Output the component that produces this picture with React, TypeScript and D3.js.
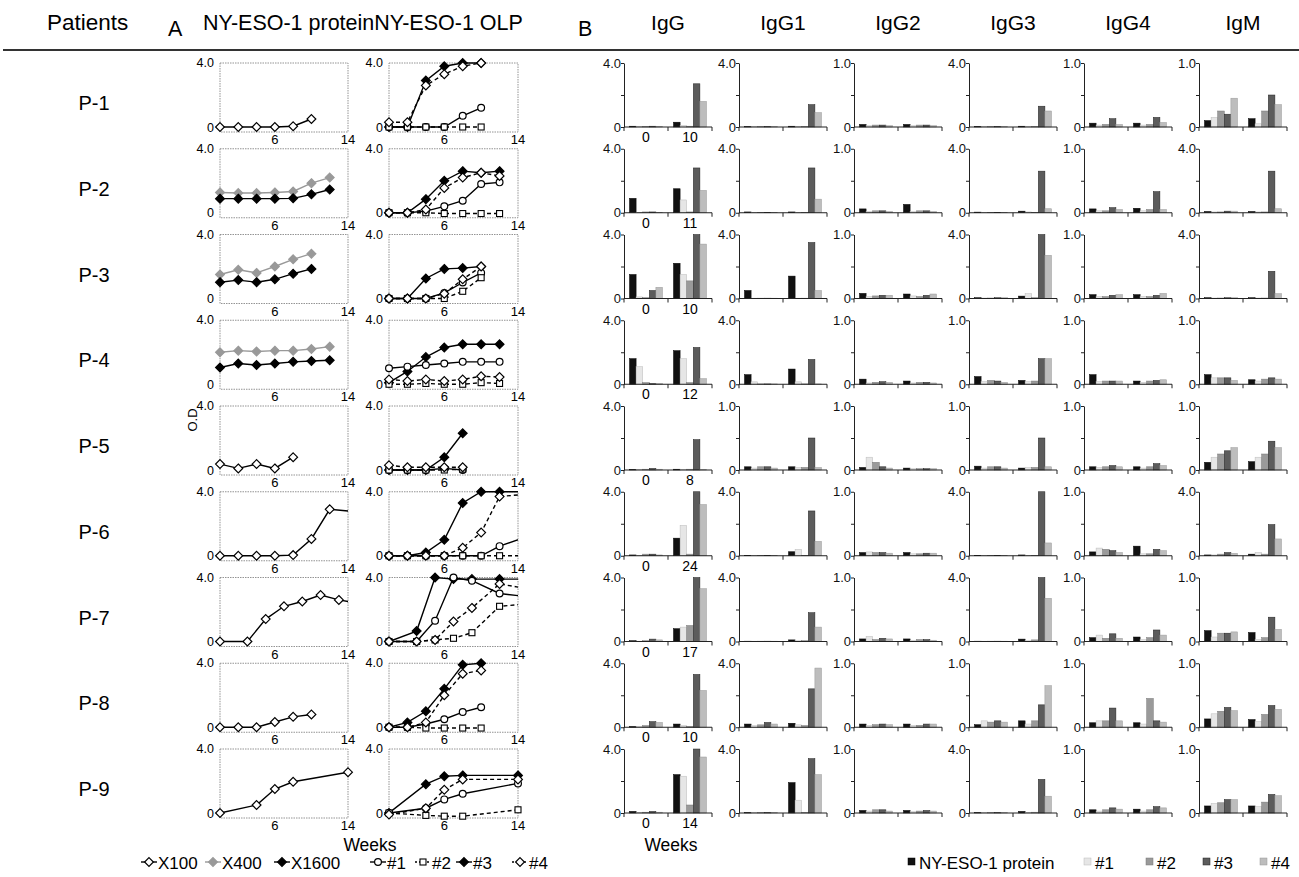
import { useEffect, useRef } from 'react';
import * as d3 from 'd3';

const FONT = '"Liberation Sans", Arial, Helvetica, sans-serif';

const patients = ['P-1', 'P-2', 'P-3', 'P-4', 'P-5', 'P-6', 'P-7', 'P-8', 'P-9'];
const lastWeek = ['10', '11', '10', '12', '8', '24', '17', '10', '14'];
const isotypes = ['IgG', 'IgG1', 'IgG2', 'IgG3', 'IgG4', 'IgM'];
const antigens = ['NY-ESO-1 protein', '#1', '#2', '#3', '#4'];

// A: NY-ESO-1 protein ELISA (weeks sampled per patient)
const proteinWeeks = [
  [0, 2, 4, 6, 8, 10], [0, 2, 4, 6, 8, 10, 12], [0, 2, 4, 6, 8, 10], [0, 2, 4, 6, 8, 10, 12],
  [0, 2, 4, 6, 8], [0, 2, 4, 6, 8, 10, 12, 16], [0, 3, 5, 7, 9, 11, 13, 15], [0, 2, 4, 6, 8, 10], [0, 4, 6, 8, 14],
];
const x100 = [
  [0, 0, 0, 0, 0.05, 0.5], null, null, null,
  [0.37, 0.1, 0.37, 0.1, 0.8], [0, 0, 0, 0, 0.04, 1.05, 2.9, 2.7], [0, 0, 1.4, 2.2, 2.5, 2.9, 2.6, 2.4],
  [0, 0, 0, 0.33, 0.65, 0.8], [0, 0.5, 1.5, 1.95, 2.55],
];
const x400 = [
  null, [1.27, 1.23, 1.23, 1.27, 1.33, 1.85, 2.2], [1.5, 1.8, 1.6, 2.0, 2.45, 2.8],
  [2.0, 2.1, 2.05, 2.1, 2.1, 2.2, 2.35], null, null, null, null, null,
];
const x1600 = [
  null, [0.88, 0.88, 0.88, 0.88, 0.9, 1.15, 1.45], [1.02, 1.15, 1.02, 1.2, 1.55, 1.85],
  [1.05, 1.3, 1.2, 1.3, 1.4, 1.45, 1.5], null, null, null, null, null,
];

// A: NY-ESO-1 OLP ELISA
const olpWeeks = [
  [0, 2, 4, 6, 8, 10], [0, 2, 4, 6, 8, 10, 12], [0, 2, 4, 6, 8, 10], [0, 2, 4, 6, 8, 10, 12],
  [0, 2, 4, 6, 8], [0, 2, 4, 6, 8, 10, 12, 16], [0, 3, 5, 7, 9, 12, 15], [0, 2, 4, 6, 8, 10], [0, 4, 6, 8, 14],
];
const olp1 = [
  [0, 0, 0, 0, 0.7, 1.2], [0, 0, 0.1, 0.4, 0.75, 1.8, 1.9], [0, 0, 0, 0.35, 1.0, 1.6],
  [1.0, 1.1, 1.2, 1.3, 1.4, 1.4, 1.4], [0, 0, 0, 0.1, 0], [0, 0, 0, 0, 0, 0, 0.6, 1.4],
  [0, 0, 1.3, 4.0, 3.8, 3.0, 2.8], [0, 0, 0.2, 0.5, 0.95, 1.25], [0, 0.3, 0.85, 1.2, 1.85],
];
const olp2 = [
  [0, 0, 0, 0, 0, 0], [0, 0, 0, -0.05, -0.05, -0.05, -0.05], [0, 0, 0, 0, 0.45, 1.3],
  [0, 0, 0.05, 0, 0, 0.1, 0.05], [0, 0, 0, 0, 0.05], [0, 0, 0, 0, 0, 0, 0, 0],
  [0, 0, 0.1, 0.2, 0.55, 2.2, 2.35], [0, 0, -0.05, -0.05, -0.05, -0.05], [0, -0.15, -0.2, -0.2, 0.2],
];
const olp3 = [
  [0, 0, 2.9, 3.8, 4.0, 4.0], [0, 0, 0.85, 2.0, 2.6, 2.5, 2.6], [0, 0, 1.25, 1.85, 1.9, 2.0],
  [0.1, 0.8, 1.7, 2.3, 2.5, 2.5, 2.5], [0, 0, 0, 0.8, 2.3], [0, 0, 0.2, 1.0, 3.3, 4.0, 4.0, 4.0],
  [0, 0.65, 4.0, 3.9, 3.9, 3.9, 3.9], [0, 0.3, 1.0, 2.4, 3.9, 4.0], [0, 1.8, 2.3, 2.35, 2.35],
];
const olp4 = [
  [0.3, 0.3, 2.6, 3.3, 3.8, 4.0], [0, 0, 0.2, 1.55, 2.2, 2.5, 2.3], [0, 0, 0, 0.3, 1.2, 2.0],
  [0.3, 0.2, 0.3, 0.2, 0.3, 0.5, 0.45], [0.3, 0.17, 0.17, 0.17, 0.17], [0, 0, 0, 0, 0.5, 1.45, 3.7, 3.9],
  [0, 0, 0.1, 1.25, 2.1, 3.6, 3.3], [0, 0, 0.3, 2.0, 3.35, 3.55], [-0.1, 0.3, 1.45, 2.1, 2.1],
];

// B: OD per isotype; week 0 (protein, #1..#4) then last week (protein, #1..#4)
const igG = [
  [0.05, 0.03, 0.03, 0.05, 0.03, 0.3, 0.1, 0.05, 2.7, 1.6],
  [0.9, 0.03, 0.05, 0.05, 0.03, 1.5, 0.8, 0.05, 2.8, 1.4],
  [1.5, 0.1, 0.05, 0.5, 0.7, 2.2, 1.5, 1.1, 4.0, 3.4],
  [1.6, 1.1, 0.1, 0.05, 0.05, 2.1, 1.6, 0.1, 2.3, 0.35],
  [0.03, 0.03, 0.05, 0.1, 0.05, 0.05, 0.03, 0.05, 1.9, 0.03],
  [0.05, 0.02, 0.1, 0.1, 0.05, 1.1, 1.9, 0.1, 4.0, 3.2],
  [0.05, 0.02, 0.05, 0.15, 0.1, 0.8, 0.9, 1.0, 4.0, 3.3],
  [0.05, 0.05, 0.1, 0.35, 0.3, 0.2, 0.1, 0.05, 3.3, 2.3],
  [0.1, 0.02, 0.05, 0.1, 0.05, 2.4, 2.3, 0.5, 4.0, 3.5],
];
const igG1 = [
  [0.02, 0.02, 0.02, 0.02, 0.02, 0.05, 0.03, 0.03, 1.4, 0.9],
  [0.05, 0.02, 0.02, 0.02, 0.02, 0.05, 0.02, 0.02, 2.8, 0.85],
  [0.5, 0.02, 0.02, 0.02, 0.02, 1.4, 0.02, 0.02, 3.5, 0.5],
  [0.6, 0.15, 0.02, 0.02, 0.02, 0.95, 0.15, 0.02, 1.55, 0.02],
  [0.05, 0.03, 0.05, 0.05, 0.03, 0.05, 0.04, 0.04, 0.5, 0.04],
  [0.02, 0.02, 0.02, 0.02, 0.02, 0.25, 0.4, 0.02, 2.8, 0.9],
  [0.02, 0.02, 0.02, 0.02, 0.02, 0.1, 0.05, 0.05, 1.8, 0.9],
  [0.2, 0.1, 0.15, 0.3, 0.2, 0.25, 0.15, 0.1, 2.4, 3.7],
  [0.02, 0.02, 0.02, 0.02, 0.02, 1.9, 0.8, 0.02, 3.4, 2.4],
];
const igG2 = [
  [0.04, 0.02, 0.03, 0.03, 0.02, 0.04, 0.02, 0.03, 0.03, 0.02],
  [0.06, 0.02, 0.03, 0.03, 0.02, 0.13, 0.02, 0.03, 0.03, 0.02],
  [0.08, 0.03, 0.04, 0.05, 0.05, 0.07, 0.04, 0.03, 0.05, 0.07],
  [0.08, 0.02, 0.03, 0.04, 0.03, 0.05, 0.02, 0.03, 0.03, 0.02],
  [0.04, 0.2, 0.12, 0.05, 0.03, 0.03, 0.02, 0.02, 0.02, 0.02],
  [0.05, 0.06, 0.05, 0.05, 0.04, 0.05, 0.03, 0.03, 0.04, 0.04],
  [0.04, 0.08, 0.03, 0.05, 0.04, 0.04, 0.02, 0.03, 0.03, 0.02],
  [0.05, 0.03, 0.04, 0.05, 0.04, 0.05, 0.03, 0.03, 0.05, 0.05],
  [0.04, 0.03, 0.05, 0.05, 0.03, 0.04, 0.02, 0.03, 0.04, 0.03],
];
const igG3 = [
  [0.03, 0.02, 0.02, 0.03, 0.02, 0.05, 0.03, 0.03, 1.3, 1.0],
  [0.04, 0.02, 0.02, 0.03, 0.02, 0.1, 0.05, 0.03, 2.6, 0.25],
  [0.05, 0.03, 0.03, 0.05, 0.05, 0.15, 0.3, 0.05, 4.0, 2.7],
  [0.12, 0.04, 0.06, 0.05, 0.03, 0.06, 0.04, 0.05, 0.4, 0.4],
  [0.06, 0.03, 0.05, 0.05, 0.03, 0.03, 0.04, 0.04, 0.5, 0.05],
  [0.02, 0.02, 0.02, 0.02, 0.02, 0.05, 0.02, 0.02, 4.0, 0.8],
  [0.02, 0.02, 0.02, 0.02, 0.02, 0.15, 0.05, 0.1, 4.0, 2.7],
  [0.04, 0.1, 0.08, 0.1, 0.08, 0.1, 0.05, 0.1, 0.35, 0.65],
  [0.02, 0.02, 0.02, 0.02, 0.02, 0.1, 0.03, 0.05, 2.1, 1.05],
];
const igG4 = [
  [0.06, 0.03, 0.04, 0.13, 0.04, 0.06, 0.03, 0.04, 0.15, 0.07],
  [0.06, 0.03, 0.03, 0.08, 0.05, 0.07, 0.03, 0.05, 0.33, 0.05],
  [0.06, 0.03, 0.03, 0.05, 0.06, 0.06, 0.03, 0.03, 0.05, 0.08],
  [0.15, 0.04, 0.05, 0.05, 0.05, 0.05, 0.03, 0.05, 0.06, 0.07],
  [0.05, 0.04, 0.05, 0.07, 0.05, 0.05, 0.03, 0.05, 0.1, 0.07],
  [0.06, 0.12, 0.1, 0.08, 0.05, 0.15, 0.03, 0.03, 0.1, 0.08],
  [0.06, 0.1, 0.05, 0.12, 0.05, 0.07, 0.03, 0.06, 0.18, 0.1],
  [0.07, 0.1, 0.1, 0.3, 0.1, 0.07, 0.05, 0.45, 0.1, 0.08],
  [0.05, 0.03, 0.05, 0.08, 0.06, 0.06, 0.03, 0.05, 0.1, 0.08],
];
const igM = [
  [0.1, 0.15, 0.25, 0.2, 0.45, 0.13, 0.05, 0.25, 0.5, 0.35],
  [0.08, 0.05, 0.05, 0.1, 0.1, 0.08, 0.05, 0.05, 2.6, 0.25],
  [0.05, 0.03, 0.03, 0.05, 0.05, 0.05, 0.03, 0.03, 1.7, 0.3],
  [0.15, 0.1, 0.1, 0.1, 0.06, 0.07, 0.05, 0.08, 0.1, 0.08],
  [0.12, 0.2, 0.25, 0.3, 0.35, 0.13, 0.2, 0.25, 0.45, 0.35],
  [0.05, 0.05, 0.1, 0.2, 0.15, 0.1, 0.2, 0.1, 1.95, 1.05],
  [0.17, 0.07, 0.13, 0.13, 0.15, 0.14, 0.03, 0.06, 0.38, 0.19],
  [0.13, 0.21, 0.25, 0.31, 0.26, 0.12, 0.09, 0.2, 0.34, 0.28],
  [0.11, 0.15, 0.16, 0.21, 0.21, 0.11, 0.1, 0.17, 0.29, 0.27],
];
// y-axis top label per patient row, per isotype
const axisMax = [
  [4, 4, 1, 4, 1, 1], [4, 4, 1, 4, 1, 4], [4, 4, 1, 4, 1, 4],
  [4, 4, 1, 1, 1, 1], [4, 1, 1, 1, 1, 1], [4, 4, 1, 4, 1, 4],
  [4, 4, 1, 4, 1, 1], [4, 4, 1, 1, 1, 1], [4, 4, 1, 4, 1, 1],
];
const isoData = [igG, igG1, igG2, igG3, igG4, igM];

const ROW0 = 127;
const ROW_STEP = 85.75;
const PH = 64;
const PROT_X: [number, number] = [220, 348];
const OLP_X: [number, number] = [389, 518];
const BAR_X0 = 624;
const BAR_STEP = 115;
const BAR_W = 88;

const barFill = ['#111', '#e6e6e6', '#9a9a9a', '#5c5c5c', '#bdbdbd'];
const barStroke = ['#000', '#bbb', '#777', '#222', '#999'];

const diamondPath = (r: number) => `M0,${-r}L${r},0L0,${r}L${-r},0Z`;

function marker(g: any, kind: string, fill: string, stroke: string, x: number, y: number) {
  if (kind === 'circle') {
    g.append('circle').attr('cx', x).attr('cy', y).attr('r', 3.4)
      .attr('fill', fill).attr('stroke', stroke).attr('stroke-width', 1.2);
  } else if (kind === 'square') {
    g.append('rect').attr('x', x - 3).attr('y', y - 3).attr('width', 6).attr('height', 6)
      .attr('fill', fill).attr('stroke', stroke).attr('stroke-width', 1.1);
  } else {
    g.append('path').attr('d', diamondPath(4.4)).attr('transform', `translate(${x},${y})`)
      .attr('fill', fill).attr('stroke', stroke).attr('stroke-width', 1.2);
  }
}

const proteinSeries = [
  { data: x100, kind: 'diamond', fill: '#fff', stroke: '#000', line: '#000', dash: null },
  { data: x400, kind: 'diamond', fill: '#999', stroke: '#999', line: '#999', dash: null },
  { data: x1600, kind: 'diamond', fill: '#000', stroke: '#000', line: '#000', dash: null },
];
const olpSeries = [
  { data: olp3, kind: 'diamond', fill: '#000', stroke: '#000', line: '#000', dash: null },
  { data: olp1, kind: 'circle', fill: '#fff', stroke: '#000', line: '#000', dash: null },
  { data: olp2, kind: 'square', fill: '#fff', stroke: '#000', line: '#000', dash: '4,3' },
  { data: olp4, kind: 'diamond', fill: '#fff', stroke: '#000', line: '#000', dash: '4,3' },
];

const App = () => {
  const svgRef = useRef<SVGSVGElement>(null);

  useEffect(() => {
    const svg = d3.select(svgRef.current);
    svg.selectAll('*').remove();
    svg.style('font-family', FONT);
    const defs = svg.append('defs');

    // Header
    svg.append('text').attr('x', 47).attr('y', 30).style('font-size', '22.5px').text('Patients');
    svg.append('text').attr('x', 168).attr('y', 36).style('font-size', '21.5px').text('A');
    svg.append('text').attr('x', 203).attr('y', 30).style('font-size', '21.5px').text('NY-ESO-1 proteinNY-ESO-1 OLP');
    svg.append('text').attr('x', 578).attr('y', 36).style('font-size', '21.5px').text('B');
    isotypes.forEach((iso, j) => {
      svg.append('text').attr('x', BAR_X0 + j * BAR_STEP + BAR_W / 2).attr('y', 30)
        .attr('text-anchor', 'middle').style('font-size', '21px').text(iso);
    });
    svg.append('line').attr('x1', 3).attr('x2', 1299).attr('y1', 50).attr('y2', 50)
      .attr('stroke', '#333').attr('stroke-width', 2);

    svg.append('text').attr('transform', 'translate(197,420) rotate(-90)')
      .attr('text-anchor', 'middle').style('font-size', '13px').text('O.D');

    const linePanel = (i: number, xr: [number, number], weeks: number[], series: any[], id: string) => {
      const y0 = ROW0 + i * ROW_STEP;
      const x = d3.scaleLinear().domain([0, 14]).range(xr);
      const y = d3.scaleLinear().domain([0, 4]).range([y0, y0 - PH]);
      const g = svg.append('g');
      g.append('rect').attr('x', xr[0]).attr('y', y(4)).attr('width', xr[1] - xr[0]).attr('height', PH + 5)
        .attr('fill', 'none').attr('stroke', '#888').attr('stroke-width', 0.9).attr('stroke-dasharray', '1.5,1');
      defs.append('clipPath').attr('id', id).append('rect')
        .attr('x', xr[0]).attr('y', y(4) - 6).attr('width', xr[1] - xr[0]).attr('height', PH + 14);
      g.append('text').attr('x', xr[0] - 6).attr('y', y(4) + 4).attr('text-anchor', 'end')
        .style('font-size', '12.5px').text('4.0');
      g.append('text').attr('x', xr[0] - 6).attr('y', y0 + 4.5).attr('text-anchor', 'end')
        .style('font-size', '12.5px').text('0');
      [6, 14].forEach(t => {
        g.append('text').attr('x', x(t)).attr('y', y0 + 17).attr('text-anchor', 'middle')
          .style('font-size', '13px').text(String(t));
      });
      const line = d3.line<[number, number]>().x(d => x(d[0])).y(d => y(d[1]));
      series.forEach(s => {
        const vals = s.data[i];
        if (!vals) return;
        const pts: [number, number][] = weeks.map((w, k) => [w, vals[k]]);
        g.append('path').datum(pts).attr('d', line).attr('fill', 'none')
          .attr('stroke', s.line).attr('stroke-width', 1.4)
          .attr('stroke-dasharray', s.dash)
          .attr('clip-path', `url(#${id})`);
        pts.filter(d => d[0] <= 14).forEach(d => marker(g, s.kind, s.fill, s.stroke, x(d[0]), y(d[1])));
      });
    };

    const barPanel = (i: number, j: number) => {
      const y0 = ROW0 + i * ROW_STEP;
      const ax = BAR_X0 + j * BAR_STEP;
      const max = axisMax[i][j];
      const vals = isoData[j][i];
      const y = d3.scaleLinear().domain([0, max]).range([y0, y0 - PH]);
      const groups = ['0', lastWeek[i]];
      const gx = d3.scaleBand().domain(groups).range([ax, ax + BAR_W]);
      const bx = d3.scaleBand().domain(antigens).range([5.5, gx.bandwidth() - 5.5]);
      const g = svg.append('g');
      groups.forEach((grp, gi) => {
        antigens.forEach((a, k) => {
          const v = vals[gi * 5 + k];
          g.append('rect')
            .attr('x', (gx(grp) as number) + (bx(a) as number))
            .attr('y', y(v)).attr('width', bx.bandwidth()).attr('height', y0 - y(v))
            .attr('fill', barFill[k]).attr('stroke', barStroke[k]).attr('stroke-width', 0.5);
        });
      });
      // y axis
      const yAxis = d3.axisLeft(y).tickValues([0, max / 2, max]).tickSize(3).tickSizeOuter(0)
        .tickFormat((d: any) => (d === 0 ? '0' : d === max ? max.toFixed(1) : ''));
      const ya = g.append('g').attr('transform', `translate(${ax},0)`).call(yAxis);
      ya.select('.domain').attr('stroke', '#222');
      ya.selectAll('line').attr('stroke', '#222');
      ya.selectAll('text').style('font-size', '13px').style('font-family', FONT).attr('x', -3).attr('fill', '#111');
      ya.attr('font-family', null);
      // x axis
      g.append('line').attr('x1', ax).attr('x2', ax + BAR_W).attr('y1', y0).attr('y2', y0)
        .attr('stroke', '#222').attr('stroke-width', 1);
      [0, gx.bandwidth(), BAR_W].forEach(t => {
        g.append('line').attr('x1', ax + t).attr('x2', ax + t).attr('y1', y0).attr('y2', y0 + 4)
          .attr('stroke', '#222').attr('stroke-width', 1);
      });
      if (j === 0) {
        groups.forEach(grp => {
          g.append('text').attr('x', (gx(grp) as number) + gx.bandwidth() / 2).attr('y', y0 + 15)
            .attr('text-anchor', 'middle').style('font-size', '14px').text(grp);
        });
      }
    };

    patients.forEach((p, i) => {
      const y0 = ROW0 + i * ROW_STEP;
      svg.append('text').attr('x', 94).attr('y', y0 - 17).attr('text-anchor', 'middle')
        .style('font-size', '20px').text(p);
      linePanel(i, PROT_X, proteinWeeks[i], proteinSeries, `clipP${i}`);
      linePanel(i, OLP_X, olpWeeks[i], olpSeries, `clipO${i}`);
      isotypes.forEach((_, j) => barPanel(i, j));
    });

    const lastY0 = ROW0 + 8 * ROW_STEP;
    svg.append('text').attr('x', 370).attr('y', lastY0 + 38).attr('text-anchor', 'middle')
      .style('font-size', '17.5px').text('Weeks');
    svg.append('text').attr('x', BAR_X0 + 47).attr('y', lastY0 + 38).attr('text-anchor', 'middle')
      .style('font-size', '17.5px').text('Weeks');

    // Left legend
    const ly = 862;
    const leftLegend = [
      { label: 'X100', x: 141, kind: 'diamond', fill: '#fff', stroke: '#000', line: '#000', dash: null },
      { label: 'X400', x: 205, kind: 'diamond', fill: '#999', stroke: '#999', line: '#999', dash: null },
      { label: 'X1600', x: 274, kind: 'diamond', fill: '#000', stroke: '#000', line: '#000', dash: null },
      { label: '#1', x: 370, kind: 'circle', fill: '#fff', stroke: '#000', line: '#000', dash: null },
      { label: '#2', x: 415, kind: 'square', fill: '#fff', stroke: '#000', line: '#000', dash: '2,2' },
      { label: '#3', x: 456, kind: 'diamond', fill: '#000', stroke: '#000', line: '#000', dash: null },
      { label: '#4', x: 512, kind: 'diamond', fill: '#fff', stroke: '#000', line: '#000', dash: '2,2' },
    ];
    leftLegend.forEach(l => {
      svg.append('line').attr('x1', l.x).attr('x2', l.x + 16).attr('y1', ly).attr('y2', ly)
        .attr('stroke', l.line).attr('stroke-width', 1.4).attr('stroke-dasharray', l.dash);
      marker(svg, l.kind, l.fill, l.stroke, l.x + 8, ly);
      svg.append('text').attr('x', l.x + 17).attr('y', ly + 6.5).style('font-size', '17px').text(l.label);
    });

    // Right legend
    const rightX = [908, 1084, 1146, 1203, 1260];
    antigens.forEach((a, k) => {
      svg.append('rect').attr('x', rightX[k]).attr('y', ly - 4).attr('width', 7).attr('height', 7)
        .attr('fill', barFill[k]).attr('stroke', barStroke[k]).attr('stroke-width', 0.5);
      svg.append('text').attr('x', rightX[k] + 11).attr('y', ly + 6.5).style('font-size', '17px').text(a);
    });
  }, []);

  return (
    <svg ref={svgRef} width={1299} height={877}
      style={{ position: 'absolute', left: 0, top: 0, background: '#fff' }} />
  );
};

export default App;
